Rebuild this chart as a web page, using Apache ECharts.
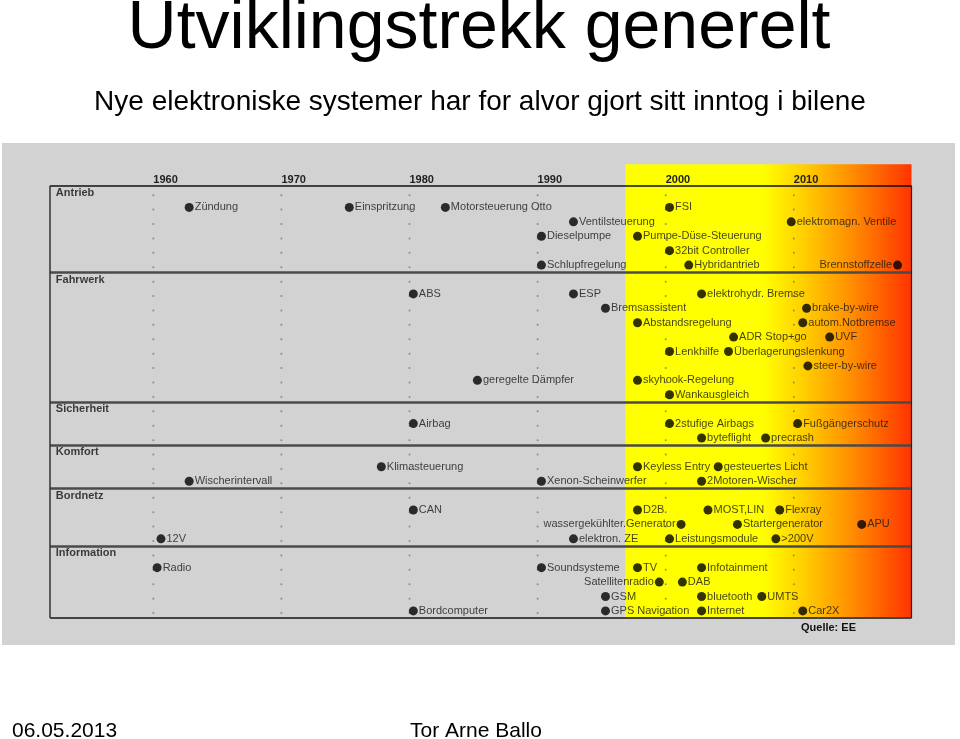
<!DOCTYPE html>
<html><head><meta charset="utf-8">
<script src="https://cdn.jsdelivr.net/npm/echarts@6/dist/echarts.min.js"></script>
<style>html,body{margin:0;padding:0;background:#fff}#c{width:960px;height:739px}</style>
</head><body><div id="c"></div>
<script>
// ---- data ----
const yearTicks = [1960, 1970, 1980, 1990, 2000, 2010];
const sectionNames = ['Antrieb', 'Fahrwerk', 'Sicherheit', 'Komfort', 'Bordnetz', 'Information'];
const sectionRows = [0, 6, 15, 18, 21, 25];
const sectionBreaks = [5.5, 14.5, 17.5, 20.5, 24.5];
const rowCount = 30;

const itemNames = [
  'Zündung', 'Einspritzung', 'Motorsteuerung Otto', 'FSI',
  'Ventilsteuerung', 'elektromagn. Ventile',
  'Dieselpumpe', 'Pumpe-Düse-Steuerung',
  '32bit Controller',
  'Schlupfregelung', 'Hybridantrieb', 'Brennstoffzelle',
  'ABS', 'ESP', 'elektrohydr. Bremse',
  'Bremsassistent', 'brake-by-wire',
  'Abstandsregelung', 'autom.Notbremse',
  'ADR Stop+go', 'UVF',
  'Lenkhilfe', 'Überlagerungslenkung',
  'steer-by-wire',
  'geregelte Dämpfer', 'skyhook-Regelung',
  'Wankausgleich',
  'Airbag', '2stufige Airbags', 'Fußgängerschutz',
  'byteflight', 'precrash',
  'Klimasteuerung', 'Keyless Entry', 'gesteuertes Licht',
  'Wischerintervall', 'Xenon-Scheinwerfer', '2Motoren-Wischer',
  'CAN', 'D2B', 'MOST,LIN', 'Flexray',
  'wassergekühlter.Generator', 'Startergenerator', 'APU',
  '12V', 'elektron. ZE', 'Leistungsmodule', '>200V',
  'Radio', 'Soundsysteme', 'TV', 'Infotainment',
  'Satellitenradio', 'DAB',
  'GSM', 'bluetooth', 'UMTS',
  'Bordcomputer', 'GPS Navigation', 'Internet', 'Car2X'
];
const itemYears = [
  1962.8, 1975.3, 1982.8, 2000.3,
  1992.8, 2009.8,
  1990.3, 1997.8,
  2000.3,
  1990.3, 2001.8, 2018.1,
  1980.3, 1992.8, 2002.8,
  1995.3, 2011.0,
  1997.8, 2010.7,
  2005.3, 2012.8,
  2000.3, 2004.9,
  2011.1,
  1985.3, 1997.8,
  2000.3,
  1980.3, 2000.3, 2010.3,
  2002.8, 2007.8,
  1977.8, 1997.8, 2004.1,
  1962.8, 1990.3, 2002.8,
  1980.3, 1997.8, 2003.3, 2008.9,
  2001.2, 2005.6, 2015.3,
  1960.6, 1992.8, 2000.3, 2008.6,
  1960.3, 1990.3, 1997.8, 2002.8,
  1999.5, 2001.3,
  1995.3, 2002.8, 2007.5,
  1980.3, 1995.3, 2002.8, 2010.7
];
const itemRows = [
  1, 1, 1, 1,
  2, 2,
  3, 3,
  4,
  5, 5, 5,
  7, 7, 7,
  8, 8,
  9, 9,
  10, 10,
  11, 11,
  12,
  13, 13,
  14,
  16, 16, 16,
  17, 17,
  19, 19, 19,
  20, 20, 20,
  22, 22, 22, 22,
  23, 23, 23,
  24, 24, 24, 24,
  26, 26, 26, 26,
  27, 27,
  28, 28, 28,
  29, 29, 29, 29
];
const leftLabeled = ['Brennstoffzelle', 'wassergekühlter.Generator', 'Satellitenradio'];

// ---- layout constants ----
const FONT = '"Liberation Sans", Arial, Helvetica, sans-serif';
const frameStart = 1951.94, frameEnd = 2019.19, highlightStart = 1996.84;
const rowTop = -2, rowBottom = 29.5;

const chart = echarts.init(document.getElementById('c'), null, {renderer: 'canvas'});

const dotData = [];
yearTicks.forEach(y => { for (let r = 0; r < rowCount; r++) dotData.push([y, r + 0.15]); });

const itemData = itemNames.map((n, i) => ({
  name: n,
  value: [itemYears[i], itemRows[i]],
  label: {position: leftLabeled.includes(n) ? 'left' : 'right'}
}));

const sectionData = sectionNames.map((n, i) => ({name: n, value: [frameStart + 0.45, sectionRows[i]]}));

function hl(y, width, color) {
  return [{coord: [frameStart, y], lineStyle: {width: width, color: color, type: 'solid'}}, {coord: [frameEnd, y]}];
}
function vl(x, width, color) {
  return [{coord: [x, -0.5], lineStyle: {width: width, color: color, type: 'solid'}}, {coord: [x, rowBottom]}];
}
const frameLines = [hl(-0.5, 1.5, '#111')];
sectionBreaks.forEach(b => frameLines.push(hl(b, 2.5, '#4a4a4a')));
frameLines.push(hl(rowBottom, 2, '#444'));
frameLines.push(vl(frameStart, 1.5, '#333'));
frameLines.push(vl(frameEnd, 1.2, '#222'));

const grad = new echarts.graphic.LinearGradient(0, 0, 1, 0, [
  {offset: 0, color: '#ffff00'},
  {offset: 0.48, color: '#ffff00'},
  {offset: 0.62, color: '#ffd000'},
  {offset: 0.8, color: '#ff8a00'},
  {offset: 1, color: '#ff3300'}
]);

const option = {
  animation: false,
  backgroundColor: '#ffffff',
  textStyle: {fontFamily: FONT},
  graphic: [
    {type: 'rect', z: -10, silent: true, shape: {x: 2, y: 143, width: 953, height: 502}, style: {fill: '#d2d2d2'}},
    {type: 'text', z: 10, style: {text: 'Utviklingstrekk generelt', x: 479, y: 29, font: '68px ' + FONT, fill: '#000', align: 'center', verticalAlign: 'middle'}},
    {type: 'text', z: 10, style: {text: 'Nye elektroniske systemer har for alvor gjort sitt inntog i bilene', x: 480, y: 102, font: '28px ' + FONT, fill: '#000', align: 'center', verticalAlign: 'middle'}},
    {type: 'text', z: 10, style: {text: 'Quelle: EE', x: 801, y: 628, font: 'bold 11px ' + FONT, fill: '#111', align: 'left', verticalAlign: 'middle'}},
    {type: 'text', z: 10, style: {text: '06.05.2013', x: 12, y: 731, font: '21px ' + FONT, fill: '#000', align: 'left', verticalAlign: 'middle'}},
    {type: 'text', z: 10, style: {text: 'Tor Arne Ballo', x: 410, y: 731, font: '21px ' + FONT, fill: '#000', align: 'left', verticalAlign: 'middle'}}
  ],
  grid: {left: 25.2, right: 38.1, top: 164.2, bottom: 120.9, containLabel: false},
  xAxis: {
    type: 'value', position: 'top', min: 1950, max: 2020, interval: 10, z: 10,
    axisLine: {show: false}, axisTick: {show: false}, splitLine: {show: false},
    axisLabel: {
      inside: true, margin: 16, align: 'left', verticalAlign: 'middle',
      fontWeight: 'bold', fontSize: 11, color: '#222', fontFamily: FONT,
      formatter: v => yearTicks.includes(v) ? String(v) : ''
    }
  },
  yAxis: {type: 'value', inverse: true, min: rowTop, max: rowBottom, show: false},
  series: [
    {
      type: 'scatter', data: [], z: 1, silent: true,
      markArea: {silent: true, data: [[{coord: [highlightStart, rowTop], itemStyle: {color: grad}}, {coord: [frameEnd, rowBottom]}]]},
      markLine: {silent: true, symbol: 'none', label: {show: false}, lineStyle: {type: 'solid'}, data: frameLines}
    },
    {
      type: 'scatter', data: dotData, symbolSize: 2, z: 3, silent: true,
      itemStyle: {color: '#7a7a7a'}
    },
    {
      type: 'scatter', data: itemData, symbol: 'circle', symbolSize: 9, z: 5, silent: true,
      itemStyle: {color: '#000'},
      label: {show: true, formatter: '{b}', distance: 1, fontSize: 11, color: '#151515', fontFamily: FONT}
    },
    {
      type: 'scatter', data: sectionData, symbolSize: 0, z: 5, silent: true,
      itemStyle: {color: 'transparent'},
      label: {show: true, position: 'right', distance: 0, formatter: '{b}', fontSize: 11, fontWeight: 'bold', color: '#111', fontFamily: FONT}
    }
  ]
};
chart.setOption(option);
</script>
</body></html>
